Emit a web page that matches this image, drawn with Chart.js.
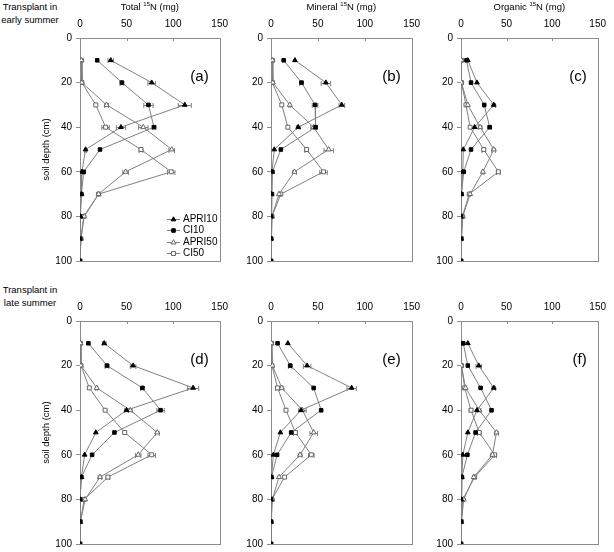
<!DOCTYPE html>
<html>
<head>
<meta charset="utf-8">
<script src="https://cdn.jsdelivr.net/npm/chart.js@4.4.0/dist/chart.umd.min.js"></script>
<style>
  body { margin: 0; background: #fff; width: 614px; height: 552px; overflow: hidden; position: relative; font-family: "Liberation Sans", Arial, sans-serif; }
  canvas { position: absolute; }
  .rowlab { position: absolute; left: 0; width: 60px; text-align: center; font-size: 9.5px; line-height: 12.5px; color: #000; }
</style>
</head>
<body>
<div class="rowlab" style="top:1px">Transplant in<br>early summer</div>
<div class="rowlab" style="top:284px">Transplant in<br>late summer</div>
<script>
// soil depth of each sample (cm) and axis ticks
const depth = [10, 20, 30, 40, 50, 60, 70, 80, 90, 100];
const depthTicks = [0, 20, 40, 60, 80, 100];
const nTicks = [0, 50, 100, 150];
const seriesNames = ['APRI10', 'CI10', 'APRI50', 'CI50'];
const panelTitles = ['Total', 'Mineral', 'Organic'];
const panelLetters = ['(a)', '(b)', '(c)', '(d)', '(e)', '(f)'];

// early summer - total 15N (mg)
const eTotAPRI10 = [33, 77, 112.5, 44, 6, 2, 1.5, 0.5, 0, 0];
const eTotCI10 = [18.5, 45, 73.5, 79.5, 21.5, 4, 1.5, 0, 0, 0];
const eTotAPRI50 = [1.5, 2, 28.5, 68, 98.5, 49, 20, 4.5, 1, 0];
const eTotCI50 = [1.5, 2, 17, 27.5, 65.5, 98, 20, 4, 1, 0];
// early summer - mineral
const eMinAPRI10 = [25.5, 58.5, 75.5, 29, 3.5, 1, 0.5, 0, 0, 0];
const eMinCI10 = [13.5, 32.5, 47, 47.5, 10.5, 1.5, 1, 0, 0, 0];
const eMinAPRI50 = [1.5, 2, 20, 45.5, 61.5, 25, 8.5, 1, 0, 0];
const eMinCI50 = [1.5, 1.5, 11.5, 18, 38, 56, 10.5, 1, 0, 0];
// early summer - organic
const eOrgAPRI10 = [7.5, 17.5, 36, 15, 2.5, 2, 0.5, 0, 0, 0];
const eOrgCI10 = [6, 11, 25.5, 31.5, 11, 3, 0.5, 0, 0, 0];
const eOrgAPRI50 = [0.5, 0.5, 7.5, 21, 36, 24, 10, 2, 0.5, 0];
const eOrgCI50 = [0.5, 0.5, 5.5, 10, 25, 41, 9, 1.5, 0.5, 0];

// late summer - total
const lTotAPRI10 = [26, 57, 121.5, 50, 17, 5, 1.5, 0, 0, 0];
const lTotCI10 = [9, 29, 67, 86.5, 37, 13, 1.5, 0, 0, 0];
const lTotAPRI50 = [0.5, 1, 18, 54, 83, 62.5, 21.5, 5.5, 0.5, 0];
const lTotCI50 = [0.5, 1, 10, 27, 48, 77, 30, 4.5, 0.5, 0];
// late summer - mineral
const lMinAPRI10 = [18, 38.5, 86, 32, 10, 2.5, 0.5, 0, 0, 0];
const lMinCI10 = [7, 20.5, 45.5, 53.5, 21.5, 6.5, 0.5, 0, 0, 0];
const lMinAPRI50 = [0.5, 1.5, 11.5, 33.5, 45.5, 31, 8.5, 1.5, 0, 0];
const lMinCI50 = [0.5, 1, 7, 16, 26, 43, 14.5, 1, 0, 0];
// late summer - organic
const lOrgAPRI10 = [7.5, 19.5, 36, 17.5, 7.5, 2, 1, 0, 0, 0];
const lOrgCI10 = [2.5, 7.5, 21.5, 33.5, 16, 7, 1, 0, 0, 0];
const lOrgAPRI50 = [0.5, 0.5, 5, 20, 39, 34.5, 14, 3, 0.5, 0];
const lOrgCI50 = [0.5, 0.5, 4, 11, 20, 37, 15, 2, 0.5, 0];

// error bars (+/- mg)
const eTotAPRI10Err = [3, 4, 7, 5, 1, 0, 0, 0, 0, 0];
const eTotCI10Err = [0, 2, 5, 2, 0, 1, 0, 0, 0, 0];
const eTotAPRI50Err = [0, 0, 2, 5, 3, 3, 0, 0, 0, 0];
const eTotCI50Err = [0, 0, 0, 4, 2, 4, 0, 0, 0, 0];
const eMinAPRI10Err = [0, 5, 3, 2, 0, 0, 0, 0, 0, 0];
const eMinCI10Err = [0, 2, 3, 2, 0, 0, 0, 0, 0, 0];
const eMinAPRI50Err = [0, 0, 1, 3, 5, 2, 0, 0, 0, 0];
const eMinCI50Err = [0, 0, 0, 0, 2, 4, 0, 0, 0, 0];
const eOrgAPRI10Err = [0, 0, 2, 0, 0, 0, 0, 0, 0, 0];
const eOrgCI10Err = [0, 0, 1, 2, 0, 0, 0, 0, 0, 0];
const eOrgAPRI50Err = [0, 0, 0, 2, 2, 1, 0, 0, 0, 0];
const eOrgCI50Err = [0, 0, 0, 0, 2, 2, 0, 0, 0, 0];
const lTotAPRI10Err = [2, 3, 6, 2, 0, 0, 0, 0, 0, 0];
const lTotCI10Err = [0, 2, 2, 4, 0, 0, 0, 0, 0, 0];
const lTotAPRI50Err = [0, 0, 1, 2, 2, 3, 2, 0, 0, 0];
const lTotCI50Err = [0, 0, 0, 0, 0, 4, 2, 0, 0, 0];
const lMinAPRI10Err = [0, 4, 5, 0, 0, 0, 0, 0, 0, 0];
const lMinCI10Err = [0, 2, 1, 1, 0, 0, 0, 0, 0, 0];
const lMinAPRI50Err = [0, 0, 2, 4, 4, 2, 0, 0, 0, 0];
const lMinCI50Err = [0, 0, 2, 0, 2, 3, 0, 0, 0, 0];
const lOrgAPRI10Err = [0, 3, 2, 0, 0, 0, 0, 0, 0, 0];
const lOrgCI10Err = [0, 0, 0, 1, 0, 0, 0, 0, 0, 0];
const lOrgAPRI50Err = [0, 0, 0, 2, 2, 2, 0, 0, 0, 0];
const lOrgCI50Err = [0, 0, 0, 2, 2, 2, 0, 0, 0, 0];

// panels in reading order a..f
const panelValues = [
  [eTotAPRI10, eTotCI10, eTotAPRI50, eTotCI50],
  [eMinAPRI10, eMinCI10, eMinAPRI50, eMinCI50],
  [eOrgAPRI10, eOrgCI10, eOrgAPRI50, eOrgCI50],
  [lTotAPRI10, lTotCI10, lTotAPRI50, lTotCI50],
  [lMinAPRI10, lMinCI10, lMinAPRI50, lMinCI50],
  [lOrgAPRI10, lOrgCI10, lOrgAPRI50, lOrgCI50]
];
const panelErrors = [
  [eTotAPRI10Err, eTotCI10Err, eTotAPRI50Err, eTotCI50Err],
  [eMinAPRI10Err, eMinCI10Err, eMinAPRI50Err, eMinCI50Err],
  [eOrgAPRI10Err, eOrgCI10Err, eOrgAPRI50Err, eOrgCI50Err],
  [lTotAPRI10Err, lTotCI10Err, lTotAPRI50Err, lTotCI50Err],
  [lMinAPRI10Err, lMinCI10Err, lMinAPRI50Err, lMinCI50Err],
  [lOrgAPRI10Err, lOrgCI10Err, lOrgAPRI50Err, lOrgCI50Err]
];

// marker styles per series
const markers = [
  { style: 'triangle', radius: 2.7, fill: '#000', border: '#000' },
  { style: 'rect', radius: 2.5, fill: '#000', border: '#000' },
  { style: 'triangle', radius: 2.9, fill: '#fff', border: '#666' },
  { style: 'rect', radius: 2.8, fill: '#fff', border: '#666' }
];

const FONT = '"Liberation Sans", Arial, sans-serif';
const LINE = '#808080';

// layout of the grid of panels
const cols = [
  { left: 0, width: 236, axisW: 80, padR: 12 },
  { left: 236, width: 192, axisW: 35, padR: 11 },
  { left: 428, width: 186, axisW: 33, padR: 9 }
];
const rows = [
  { top: 0, height: 271, axisH: 38, padB: 8 },
  { top: 271, height: 283, axisH: 50, padB: 7 }
];

function drawMarker(ctx, m, x, y) {
  ctx.fillStyle = m.fill;
  ctx.strokeStyle = m.border;
  ctx.lineWidth = 1;
  ctx.beginPath();
  if (m.style === 'triangle') {
    for (let k = 0; k < 3; k++) {
      const a = k * 2 * Math.PI / 3;
      const px = x + Math.sin(a) * m.radius, py = y - Math.cos(a) * m.radius;
      k ? ctx.lineTo(px, py) : ctx.moveTo(px, py);
    }
    ctx.closePath();
  } else {
    const s = m.radius * Math.SQRT1_2;
    ctx.rect(x - s, y - s, 2 * s, 2 * s);
  }
  ctx.fill();
  ctx.stroke();
}

const panelDecor = {
  id: 'panelDecor',
  beforeDatasetsDraw(chart) {
    const { ctx, chartArea: a, scales: { x, y } } = chart;
    ctx.save();
    // frame
    ctx.strokeStyle = '#8c8c8c';
    ctx.lineWidth = 1;
    ctx.strokeRect(Math.round(a.left) + 0.5, Math.round(a.top) + 0.5, Math.round(a.right - a.left), Math.round(a.bottom - a.top));
    // inside tick marks on top axis
    x.ticks.forEach(t => {
      const px = Math.round(x.getPixelForValue(t.value)) + 0.5;
      ctx.beginPath();
      ctx.moveTo(px, a.top);
      ctx.lineTo(px, a.top + 3);
      ctx.stroke();
    });
    // horizontal error bars
    ctx.strokeStyle = LINE;
    chart.data.datasets.forEach(ds => {
      ds.data.forEach((p, i) => {
        const e = ds.errors[i];
        if (!e) return;
        const py = Math.round(y.getPixelForValue(p.y)) + 0.5;
        const x1 = x.getPixelForValue(p.x - e), x2 = x.getPixelForValue(p.x + e);
        ctx.beginPath();
        ctx.moveTo(x1, py); ctx.lineTo(x2, py);
        ctx.moveTo(x1, py - 2.5); ctx.lineTo(x1, py + 2.5);
        ctx.moveTo(x2, py - 2.5); ctx.lineTo(x2, py + 2.5);
        ctx.stroke();
      });
    });
    ctx.restore();
  },
  afterDraw(chart, args, opts) {
    const { ctx, chartArea: a } = chart;
    ctx.save();
    ctx.fillStyle = '#000';
    // panel letter
    ctx.font = '15px ' + FONT;
    ctx.textAlign = 'right';
    ctx.textBaseline = 'middle';
    ctx.fillText(opts.letter, a.right - 11, a.top + 39);
    // axis title with superscript 15
    if (opts.title) {
      const parts = [[opts.title + ' ', 9.5, 0], ['15', 6, -3], ['N (mg)', 9.5, 0]];
      let w = 0;
      parts.forEach(p => { ctx.font = p[1] + 'px ' + FONT; w += ctx.measureText(p[0]).width; });
      let cx = (a.left + a.right) / 2 - w / 2;
      ctx.textAlign = 'left';
      parts.forEach(p => {
        ctx.font = p[1] + 'px ' + FONT;
        ctx.fillText(p[0], cx, 7 + p[2]);
        cx += ctx.measureText(p[0]).width;
      });
    }
    // legend inside panel (a)
    if (opts.legend) {
      ctx.font = '10px ' + FONT;
      ctx.textAlign = 'left';
      seriesNames.forEach((name, i) => {
        const ly = Math.round(a.top + 181 + i * 11.4) + 0.5;
        ctx.strokeStyle = LINE;
        ctx.lineWidth = 1;
        ctx.beginPath();
        ctx.moveTo(a.left + 87, ly);
        ctx.lineTo(a.left + 100, ly);
        ctx.stroke();
        drawMarker(ctx, markers[i], a.left + 93.5, ly);
        ctx.fillStyle = '#000';
        ctx.fillText(name, a.left + 103, ly);
      });
    }
    ctx.restore();
  }
};

function addCanvas(left, top, w, h) {
  const c = document.createElement('canvas');
  c.width = w; c.height = h;
  c.style.left = left + 'px'; c.style.top = top + 'px';
  c.style.width = w + 'px'; c.style.height = h + 'px';
  document.body.appendChild(c);
  return c;
}

panelValues.forEach((vals, p) => {
  const r = rows[Math.floor(p / 3)], c = cols[p % 3];
  const canvas = addCanvas(c.left, r.top, c.width, r.height);
  const datasets = vals.map((v, i) => ({
    label: seriesNames[i],
    data: v.map((val, k) => ({ x: val, y: depth[k] })),
    errors: panelErrors[p][i],
    showLine: true,
    borderColor: LINE,
    borderWidth: 1,
    pointStyle: markers[i].style,
    pointRadius: markers[i].radius,
    pointBackgroundColor: markers[i].fill,
    pointBorderColor: markers[i].border,
    pointBorderWidth: 1
  }));
  new Chart(canvas, {
    type: 'scatter',
    data: { datasets },
    options: {
      responsive: false,
      animation: false,
      devicePixelRatio: 1,
      layout: { padding: { left: 0, top: 0, right: c.padR, bottom: r.padB } },
      plugins: {
        legend: { display: false },
        tooltip: { enabled: false },
        panelDecor: {
          letter: panelLetters[p],
          title: p < 3 ? panelTitles[p] : null,
          legend: p === 0
        }
      },
      scales: {
        x: {
          type: 'linear',
          position: 'top',
          min: nTicks[0],
          max: nTicks[nTicks.length - 1],
          afterBuildTicks: s => { s.ticks = nTicks.map(v => ({ value: v })); },
          afterFit: s => { s.height = r.axisH; },
          grid: { display: false, drawTicks: false },
          border: { display: false },
          ticks: { color: '#000', padding: 8, maxRotation: 0, font: { family: FONT, size: 10 } }
        },
        y: {
          type: 'linear',
          reverse: true,
          min: depthTicks[0],
          max: depthTicks[depthTicks.length - 1],
          afterBuildTicks: s => { s.ticks = depthTicks.map(v => ({ value: v })); },
          afterFit: s => { s.width = c.axisW; },
          grid: { drawOnChartArea: false, drawTicks: true, tickLength: 4, color: '#8c8c8c' },
          border: { display: false },
          ticks: { color: '#000', padding: 4, font: { family: FONT, size: 10 } },
          title: {
            display: p % 3 === 0,
            text: 'soil depth (cm)',
            color: '#000',
            font: { family: FONT, size: 9.5 },
            padding: { top: 41, bottom: 0 }
          }
        }
      }
    },
    plugins: [panelDecor]
  });
});
</script>
</body>
</html>
